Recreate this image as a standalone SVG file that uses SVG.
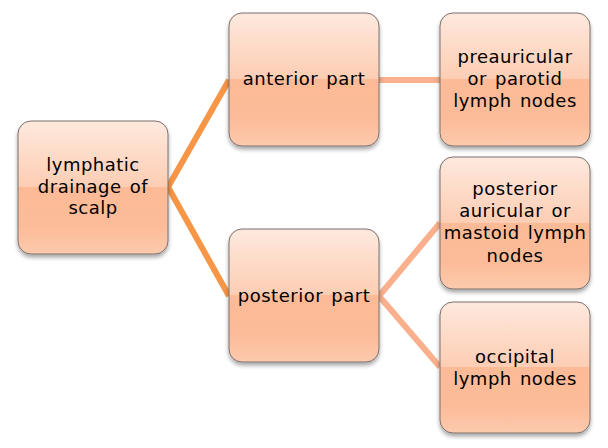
<svg xmlns="http://www.w3.org/2000/svg" width="608" height="448" viewBox="0 0 608 448">
<defs>
<linearGradient id="g" x1="0" y1="0" x2="0" y2="1">
<stop offset="0" stop-color="#FEE9DE"/>
<stop offset="0.5" stop-color="#FDCDB3"/>
<stop offset="0.5" stop-color="#FDBA96"/>
<stop offset="0.8" stop-color="#FCBC99"/>
<stop offset="1" stop-color="#FCCAAE"/>
</linearGradient>
<filter id="sh" x="-10%" y="-10%" width="120%" height="130%">
<feGaussianBlur in="SourceAlpha" stdDeviation="2"/>
<feOffset dx="0" dy="3" result="b"/>
<feComponentTransfer><feFuncA type="linear" slope="0.35"/></feComponentTransfer>
<feMerge><feMergeNode/><feMergeNode in="SourceGraphic"/></feMerge>
</filter>
</defs>
<style>
.box{fill:url(#g);stroke:#7D716C;stroke-width:1;filter:url(#sh)}
.t{font-family:"DejaVu Sans","Liberation Sans",sans-serif;font-size:18px;letter-spacing:0.5px;word-spacing:2px;fill:#000;text-anchor:middle}
.c1{stroke:#F79646;stroke-width:6;fill:none}
.c2{stroke:#FAB08C;stroke-width:6;fill:none}
</style>
<g id="connectors">
<polyline class="c1" points="229,80 168,187 229,296"/>
<line class="c2" x1="379" y1="80" x2="440" y2="80"/>
<polyline class="c2" points="440,223 379,296 440,367"/>
</g>
<g id="n1"><rect class="box" x="18" y="121" width="150" height="133" rx="13"/>
<text class="t" x="93" y="171">lymphatic</text><text class="t" x="93" y="193">drainage of</text><text class="t" x="93" y="214">scalp</text></g>
<g id="n2"><rect class="box" x="229" y="13" width="150" height="133" rx="13"/>
<text class="t" x="304" y="85">anterior part</text></g>
<g id="n3"><rect class="box" x="229" y="229" width="150" height="133" rx="13"/>
<text class="t" x="304" y="302">posterior part</text></g>
<g id="n4"><rect class="box" x="440" y="13" width="150" height="133" rx="13"/>
<text class="t" x="515" y="63">preauricular</text><text class="t" x="515" y="85">or parotid</text><text class="t" x="515" y="107">lymph nodes</text></g>
<g id="n5"><rect class="box" x="440" y="157" width="150" height="132" rx="13"/>
<text class="t" x="515" y="195">posterior</text><text class="t" x="515" y="217">auricular or</text><text class="t" x="515" y="239">mastoid lymph</text><text class="t" x="515" y="262">nodes</text></g>
<g id="n6"><rect class="box" x="440" y="302" width="150" height="131" rx="13"/>
<text class="t" x="515" y="363">occipital</text><text class="t" x="515" y="385">lymph nodes</text></g>
</svg>
